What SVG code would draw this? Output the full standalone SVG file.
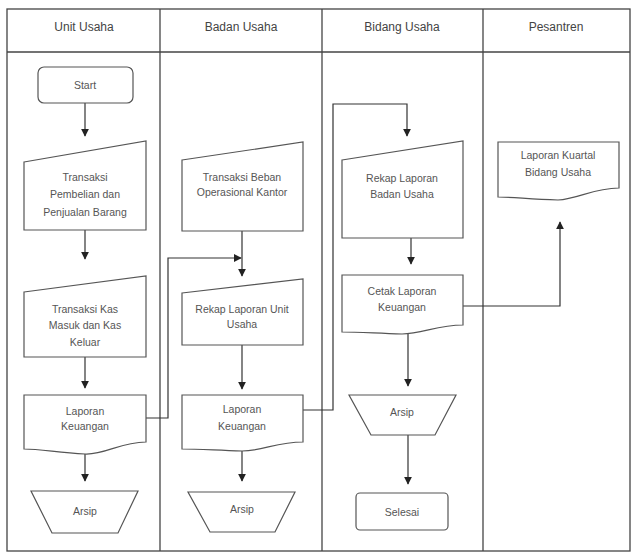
<svg xmlns="http://www.w3.org/2000/svg" width="631" height="553" viewBox="0 0 631 553">
<style>
.f{fill:none;stroke:#444;stroke-width:1.3}
.s{fill:#fff;stroke:#555;stroke-width:1.2}
.c{fill:none;stroke:#333;stroke-width:1.2}
.h{font-family:"Liberation Sans",Arial,sans-serif;font-size:12px;fill:#444;text-anchor:middle}
.t{font-family:"Liberation Sans",Arial,sans-serif;font-size:10.5px;fill:#555;text-anchor:middle}
</style>
<defs>
<marker id="a" viewBox="0 0 10 10" refX="9" refY="5" markerWidth="8" markerHeight="8" markerUnits="userSpaceOnUse" orient="auto"><path d="M0,0L10,5L0,10z" fill="#222"/></marker>
</defs>
<rect width="631" height="553" fill="#fff"/>
<g id="lanes">
<rect class="f" x="7" y="9" width="623" height="542"/>
<line class="f" x1="7" y1="52" x2="630" y2="52"/>
<line class="f" x1="160" y1="9" x2="160" y2="551"/>
<line class="f" x1="322" y1="9" x2="322" y2="551"/>
<line class="f" x1="483" y1="9" x2="483" y2="551"/>
<text class="h" x="84" y="31">Unit Usaha</text>
<text class="h" x="241" y="31">Badan Usaha</text>
<text class="h" x="402" y="31">Bidang Usaha</text>
<text class="h" x="556" y="31">Pesantren</text>
</g>
<g id="connectors">
<line class="c" x1="85" y1="103" x2="85" y2="136" marker-end="url(#a)"/>
<line class="c" x1="85" y1="230" x2="85" y2="259" marker-end="url(#a)"/>
<line class="c" x1="85" y1="357" x2="85" y2="388" marker-end="url(#a)"/>
<line class="c" x1="85" y1="452" x2="85" y2="481" marker-end="url(#a)"/>
<polyline class="c" points="146,418 168,418 168,258 241,258" marker-end="url(#a)"/>
<line class="c" x1="242" y1="231" x2="242" y2="276" marker-end="url(#a)"/>
<line class="c" x1="242" y1="345" x2="242" y2="389" marker-end="url(#a)"/>
<line class="c" x1="242" y1="446" x2="242" y2="481" marker-end="url(#a)"/>
<polyline class="c" points="303,410 333,410 333,104 407,104 407,136" marker-end="url(#a)"/>
<line class="c" x1="411" y1="238" x2="411" y2="264" marker-end="url(#a)"/>
<line class="c" x1="408" y1="330" x2="408" y2="386" marker-end="url(#a)"/>
<line class="c" x1="408" y1="435" x2="408" y2="484" marker-end="url(#a)"/>
<polyline class="c" points="463,306 560,306 560,222" marker-end="url(#a)"/>
</g>
<g id="start">
<rect class="s" x="38" y="67" width="95" height="36" rx="6"/>
<text class="t" x="85" y="89">Start</text>
</g>
<g id="trans1">
<path class="s" d="M24,162L146,141L146,230L24,230z"/>
<text class="t" x="85" y="181">Transaksi</text>
<text class="t" x="85" y="198">Pembelian dan</text>
<text class="t" x="85" y="216">Penjualan Barang</text>
</g>
<g id="trans2">
<path class="s" d="M24,292L146,276L146,357L24,357z"/>
<text class="t" x="85" y="313">Transaksi Kas</text>
<text class="t" x="85" y="329">Masuk dan Kas</text>
<text class="t" x="85" y="346">Keluar</text>
</g>
<g id="lap1">
<path class="s" d="M24,395L146,395L146,442C120,442 105,455 85,454C55,452 40,449 24,449z"/>
<text class="t" x="85" y="415">Laporan</text>
<text class="t" x="85" y="430">Keuangan</text>
</g>
<g id="arsip1">
<path class="s" d="M31,491L138,491L118,533L52,533z"/>
<text class="t" x="85" y="515">Arsip</text>
</g>
<g id="beban">
<path class="s" d="M182,160L303,142L303,231L182,231z"/>
<text class="t" x="242" y="181">Transaksi Beban</text>
<text class="t" x="242" y="196">Operasional Kantor</text>
</g>
<g id="rekap1">
<path class="s" d="M182,293L303,279L303,345L182,345z"/>
<text class="t" x="242" y="313">Rekap Laporan Unit</text>
<text class="t" x="242" y="328">Usaha</text>
</g>
<g id="lap2">
<path class="s" d="M182,395L303,395L303,442C277,442 262,451 242,451C212,450 197,449 182,449z"/>
<text class="t" x="242" y="413">Laporan</text>
<text class="t" x="242" y="430">Keuangan</text>
</g>
<g id="arsip2">
<path class="s" d="M188,492L295,492L275,532L210,532z"/>
<text class="t" x="242" y="513">Arsip</text>
</g>
<g id="rekap2">
<path class="s" d="M342,160L463,141L463,238L342,238z"/>
<text class="t" x="402" y="182">Rekap Laporan</text>
<text class="t" x="402" y="198">Badan Usaha</text>
</g>
<g id="cetak">
<path class="s" d="M342,275L463,275L463,325C437,325 422,334 402,334C372,333 357,332 342,332z"/>
<text class="t" x="402" y="295">Cetak Laporan</text>
<text class="t" x="402" y="311">Keuangan</text>
</g>
<g id="arsip3">
<path class="s" d="M349,395L456,395L435,435L371,435z"/>
<text class="t" x="402" y="416">Arsip</text>
</g>
<g id="selesai">
<rect class="s" x="356" y="493" width="92" height="37" rx="4"/>
<text class="t" x="402" y="516">Selesai</text>
</g>
<g id="kuartal">
<path class="s" d="M498,142L619,142L619,188C593,188 578,199 558,200C528,199 513,197 498,197z"/>
<text class="t" x="558" y="159">Laporan Kuartal</text>
<text class="t" x="558" y="176">Bidang Usaha</text>
</g>
</svg>
